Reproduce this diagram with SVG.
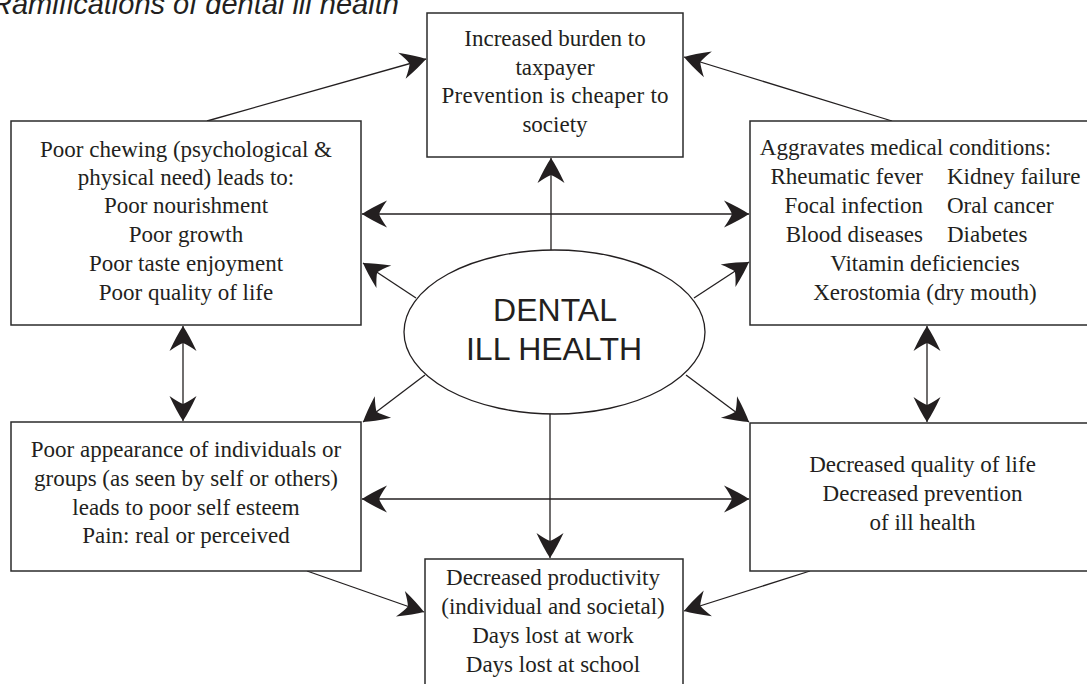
<svg xmlns="http://www.w3.org/2000/svg" width="1087" height="684" viewBox="0 0 1087 684">
  <style>
    .box { fill: #ffffff; stroke: #2b2b2b; stroke-width: 1.5; }
    .t { font-family: "Liberation Serif", "Times New Roman", serif; font-size: 23px; fill: #231f20; text-anchor: middle; }
    .s { text-anchor: start; }
    .e { text-anchor: end; }
    .big { font-family: "Liberation Sans", Arial, sans-serif; font-size: 32px; fill: #231f20; text-anchor: middle; }
    .title { font-family: "Liberation Sans", Arial, sans-serif; font-style: italic; font-size: 29px; fill: #231f20; }
    .ln { fill: none; stroke: #231f20; stroke-width: 1.3; }
    .one { marker-end: url(#head); }
    .two { marker-start: url(#head); marker-end: url(#head); }
  </style>
  <defs>
    <!-- swept arrowhead, tip at the origin -->
    <marker id="head" markerUnits="userSpaceOnUse" viewBox="-28 -16 32 32" refX="0" refY="0" markerWidth="32" markerHeight="32" orient="auto-start-reverse">
      <path d="M0 0 Q-9 -6 -25 -13.5 Q-19 -5 -17 0 Q-19 5 -25 13.5 Q-9 6 0 0 Z" fill="#231f20"/>
    </marker>
  </defs>

  <rect width="1087" height="684" fill="#ffffff"/>

  <text class="title" x="-9" y="14">Ramifications of dental ill health</text>

  <!-- connectors -->
  <g id="connectors">
    <line class="ln one" x1="551" y1="250" x2="551" y2="158"/>
    <line class="ln one" x1="550" y1="414" x2="550" y2="558"/>
    <line class="ln two" x1="362" y1="214" x2="749" y2="214"/>
    <line class="ln two" x1="362" y1="499" x2="749" y2="499"/>
    <line class="ln one" x1="416" y1="298" x2="363" y2="263"/>
    <line class="ln one" x1="694" y1="298" x2="749" y2="262"/>
    <line class="ln one" x1="425" y1="375" x2="363" y2="422"/>
    <line class="ln one" x1="686" y1="375" x2="749" y2="422"/>
    <line class="ln two" x1="183" y1="326" x2="183" y2="421"/>
    <line class="ln two" x1="927" y1="326" x2="927" y2="422"/>
    <line class="ln one" x1="207" y1="121" x2="426" y2="59"/>
    <line class="ln one" x1="892" y1="121" x2="684" y2="57"/>
    <line class="ln one" x1="307" y1="571" x2="424" y2="612"/>
    <line class="ln one" x1="810" y1="571" x2="684" y2="611"/>
  </g>

  <!-- centre -->
  <g id="dental-ill-health">
    <ellipse cx="554.5" cy="332" rx="150.5" ry="82" fill="#ffffff" stroke="#231f20" stroke-width="1.3"/>
    <text class="big" x="555" y="321">DENTAL</text>
    <text class="big" x="554" y="360">ILL HEALTH</text>
  </g>

  <g id="taxpayer">
    <rect class="box" x="427" y="13" width="256" height="144"/>
    <text class="t" x="555" y="46">Increased burden to</text>
    <text class="t" x="555" y="75">taxpayer</text>
    <text class="t" x="555" y="103" textLength="227" lengthAdjust="spacing">Prevention is cheaper to</text>
    <text class="t" x="555" y="132">society</text>
  </g>

  <g id="chewing">
    <rect class="box" x="11" y="121" width="350" height="204"/>
    <text class="t" x="186" y="157">Poor chewing (psychological &amp;</text>
    <text class="t" x="186" y="185">physical need) leads to:</text>
    <text class="t" x="186" y="213">Poor nourishment</text>
    <text class="t" x="186" y="242">Poor growth</text>
    <text class="t" x="186" y="271">Poor taste enjoyment</text>
    <text class="t" x="186" y="300">Poor quality of life</text>
  </g>

  <g id="medical">
    <rect class="box" x="750" y="121" width="345" height="204"/>
    <text class="t" x="905.5" y="155">Aggravates medical conditions:</text>
    <text class="t e" x="923" y="184">Rheumatic fever</text>
    <text class="t s" x="947" y="184">Kidney failure</text>
    <text class="t e" x="923" y="213">Focal infection</text>
    <text class="t s" x="947" y="213">Oral cancer</text>
    <text class="t e" x="923" y="242">Blood diseases</text>
    <text class="t s" x="947" y="242">Diabetes</text>
    <text class="t" x="925" y="271">Vitamin deficiencies</text>
    <text class="t" x="925" y="300">Xerostomia (dry mouth)</text>
  </g>

  <g id="appearance">
    <rect class="box" x="11" y="422" width="350" height="149"/>
    <text class="t" x="186" y="457">Poor appearance of individuals or</text>
    <text class="t" x="186" y="486">groups (as seen by self or others)</text>
    <text class="t" x="186" y="515">leads to poor self esteem</text>
    <text class="t" x="186" y="543">Pain: real or perceived</text>
  </g>

  <g id="quality">
    <rect class="box" x="750" y="423" width="345" height="148"/>
    <text class="t" x="922.5" y="472">Decreased quality of life</text>
    <text class="t" x="922.5" y="501">Decreased prevention</text>
    <text class="t" x="922.5" y="530">of ill health</text>
  </g>

  <g id="productivity">
    <rect class="box" x="425" y="559" width="258" height="140"/>
    <text class="t" x="553" y="585">Decreased productivity</text>
    <text class="t" x="553" y="614">(individual and societal)</text>
    <text class="t" x="553" y="643">Days lost at work</text>
    <text class="t" x="553" y="672">Days lost at school</text>
  </g>
</svg>
